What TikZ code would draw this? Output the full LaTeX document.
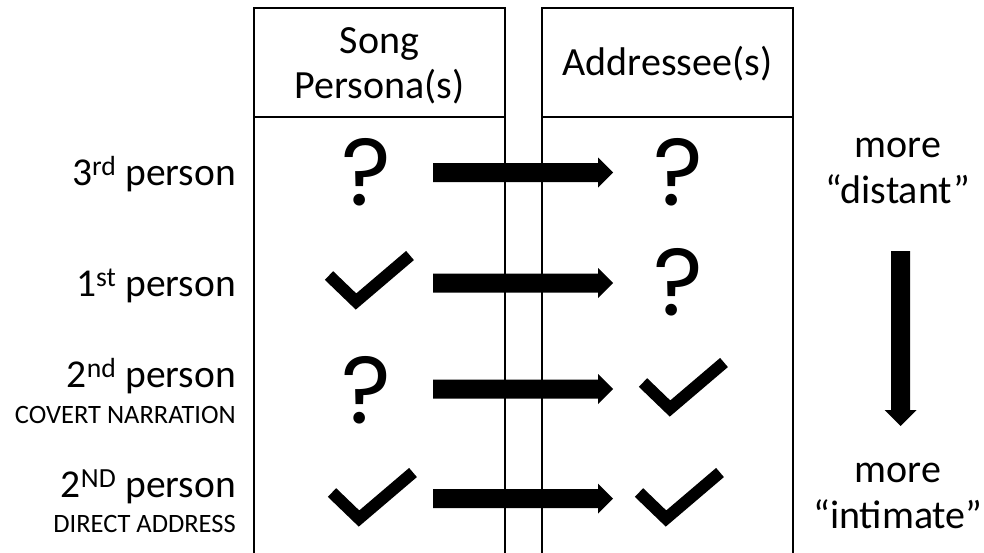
\documentclass[tikz,border=0pt]{standalone}
\usepackage{fontspec}
\setmainfont{Carlito}
\newfontfamily\qfont{Poppins}
\usetikzlibrary{calc}
\newcommand\fathor[2]{\fill ($(#1)+(0,-9.5)$) -- ($(#2)+(-15,-9.5)$) -- ($(#2)+(-15,-15)$) -- (#2) -- ($(#2)+(-15,15)$) -- ($(#2)+(-15,9.5)$) -- ($(#1)+(0,9.5)$) -- cycle;}
\newcommand\fatver[2]{\fill ($(#1)+(-9.5,0)$) -- ($(#2)+(-9.5,-16)$) -- ($(#2)+(-16,-16)$) -- (#2) -- ($(#2)+(16,-16)$) -- ($(#2)+(9.5,-16)$) -- ($(#1)+(9.5,0)$) -- cycle;}
\begin{document}
\begin{tikzpicture}[x=1pt,y=-1pt,
  box/.style={draw=black,line width=1.6pt},
  lbl/.style={anchor=base east,inner sep=0pt,font=\fontsize{39.5}{45}\selectfont},
  sub/.style={anchor=base east,inner sep=0pt,font=\fontsize{26.5}{30}\selectfont},
  head/.style={anchor=base,inner sep=0pt,align=center,font=\fontsize{40}{45}\selectfont},
  side/.style={anchor=base,inner sep=0pt,align=center,font=\fontsize{40}{46}\selectfont},
  qm/.style={anchor=base,inner sep=0pt,font=\qfont\fontsize{95}{100}\selectfont},
  tickmark/.pic={\draw[line width=12pt,miter limit=10] (-27,-26) -- (0,0) -- (54,-46);}]
\useasboundingbox (0,0) rectangle (984,552);
\clip (0,0) rectangle (984,552);
% columns
\draw[box] (254,8) rectangle (505,600);
\draw[box] (254,117) -- (505,117);
\draw[box] (542,8) rectangle (793,600);
\draw[box] (542,117) -- (793,117);
\node[head] (h1) at (379.5,98) {Song\\Persona(s)};
\node[head] (h2) at (667.5,75) {Addressee(s)};
% row labels
\node[lbl] (r1) at (236,185) {3\textsuperscript{rd} person};
\node[lbl] (r2) at (236,296) {1\textsuperscript{st} person};
\node[lbl] (r3) at (236,387) {2\textsuperscript{nd} person};
\node[sub] (r3s) at (236,423) {COVERT NARRATION};
\node[lbl] (r4) at (236,497) {2\textsuperscript{ND} person};
\node[sub] (r4s) at (236,532) {DIRECT ADDRESS};
% symbols
\node[qm] (p1) at (366.5,205) {?};
\node[qm] (a1) at (678.5,205) {?};
\node[qm] (a2) at (678.5,315) {?};
\node[qm] (p3) at (366.5,423) {?};
\pic (p2) at (356,301.5) {tickmark};
\pic (a3) at (670,408.5) {tickmark};
\pic (p4) at (359,518.5) {tickmark};
\pic (a4) at (666,518.5) {tickmark};
% arrows
\coordinate (s1) at (433,172.5); \coordinate (e1) at (613,172.5);
\coordinate (s2) at (433,283);   \coordinate (e2) at (613,283);
\coordinate (s3) at (433,389);   \coordinate (e3) at (613,389);
\coordinate (s4) at (433,498.5); \coordinate (e4) at (613,498.5);
\fathor{s1}{e1}
\fathor{s2}{e2}
\fathor{s3}{e3}
\fathor{s4}{e4}
% right scale
\node[side] (t1) at (898,203) {more\\“distant”};
\node[side] (t2) at (898,528) {more\\“intimate”};
\coordinate (ds) at (900.5,251); \coordinate (de) at (900.5,426);
\fatver{ds}{de}
\end{tikzpicture}
\end{document}
